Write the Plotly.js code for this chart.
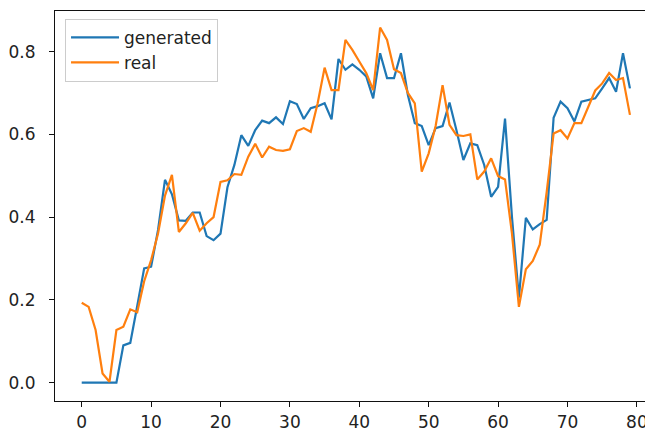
<!DOCTYPE html>
<html>
<head>
<meta charset="utf-8">
<script src="https://cdn.plot.ly/plotly-3.0.1.min.js"></script>
<style>
  html, body { margin: 0; padding: 0; background: #fff; }
  #chart { width: 645px; height: 431px; }
</style>
</head>
<body>
<div id="chart"></div>
<script>
// Step index 0..79
const steps = Array.from({length: 80}, (_, i) => i);

// Generated series
const generated = [
  0.0, 0.0, 0.0, 0.0, 0.0, 0.0, 0.09, 0.096, 0.185, 0.276,
  0.28, 0.369, 0.49, 0.455, 0.392, 0.391, 0.411, 0.411, 0.354, 0.344,
  0.36, 0.472, 0.526, 0.598, 0.572, 0.61, 0.633, 0.627, 0.641, 0.625,
  0.68, 0.673, 0.637, 0.663, 0.668, 0.675, 0.636, 0.782, 0.756, 0.769,
  0.756, 0.74, 0.687, 0.796, 0.736, 0.736, 0.796, 0.695, 0.627, 0.62,
  0.574, 0.615, 0.62, 0.677, 0.61, 0.538, 0.578, 0.574, 0.526, 0.449,
  0.473, 0.638, 0.40, 0.205, 0.398, 0.37, 0.383, 0.393, 0.64, 0.679,
  0.663, 0.631, 0.679, 0.683, 0.687, 0.711, 0.736, 0.703, 0.796, 0.711
];

// Real series
const real = [
  0.193, 0.183, 0.127, 0.022, 0.002, 0.127, 0.135, 0.177, 0.17, 0.245,
  0.296, 0.36, 0.452, 0.502, 0.364, 0.385, 0.41, 0.367, 0.385, 0.40,
  0.485, 0.489, 0.504, 0.502, 0.546, 0.577, 0.544, 0.57, 0.562, 0.56,
  0.564, 0.608, 0.615, 0.606, 0.675, 0.761, 0.707, 0.707, 0.828, 0.804,
  0.776, 0.748, 0.707, 0.858, 0.828, 0.757, 0.748, 0.70, 0.675, 0.51,
  0.554, 0.62, 0.719, 0.623, 0.598, 0.596, 0.60, 0.491, 0.51, 0.542,
  0.499, 0.491, 0.36, 0.183, 0.274, 0.294, 0.333, 0.46, 0.602, 0.61,
  0.59, 0.627, 0.627, 0.665, 0.706, 0.723, 0.748, 0.731, 0.736, 0.647
];

const seriesNames = ['generated', 'real'];
const seriesColors = ['#1f77b4', '#ff7f0e'];
const xTicks = [0, 10, 20, 30, 40, 50, 60, 70, 80];
const yTicks = [0.0, 0.2, 0.4, 0.6, 0.8];

const traces = [generated, real].map((ys, k) => ({
  x: steps,
  y: ys,
  type: 'scatter',
  mode: 'lines',
  name: seriesNames[k],
  legendgroup: seriesNames[k],
  line: {color: seriesColors[k], width: 2.2},
  hoverinfo: 'skip'
}));

const axisFont = {family: 'DejaVu Sans, sans-serif', size: 17, color: '#222'};

const layout = {
  width: 645,
  height: 431,
  margin: {l: 55, r: 0, t: 11, b: 30, pad: 0},
  paper_bgcolor: '#fff',
  plot_bgcolor: '#fff',
  showlegend: true,
  legend: {
    x: 0.017, y: 0.98, xanchor: 'left', yanchor: 'top',
    bgcolor: 'rgba(255,255,255,0.8)',
    bordercolor: '#cccccc', borderwidth: 1,
    font: {family: 'DejaVu Sans, sans-serif', size: 17, color: '#222'},
    traceorder: 'grouped', tracegroupgap: 0,
    itemwidth: 48
  },
  xaxis: {
    range: [-3.85, 81.17],
    tickvals: xTicks,
    ticktext: xTicks.map(String),
    showgrid: false, zeroline: false,
    showline: true, linecolor: '#111', linewidth: 1.1, mirror: true,
    ticks: 'outside', ticklen: 5, tickwidth: 1.1, tickcolor: '#111',
    ticklabelstandoff: 0,
    ticklabeloverflow: 'allow',
    tickfont: axisFont
  },
  yaxis: {
    range: [-0.0445, 0.898],
    tickvals: yTicks,
    ticktext: yTicks.map(v => v.toFixed(1)),
    showgrid: false, zeroline: false,
    showline: true, linecolor: '#111', linewidth: 1.1, mirror: false,
    ticks: 'outside', ticklen: 5, tickwidth: 1.1, tickcolor: '#111',
    ticklabelstandoff: 10,
    tickfont: axisFont
  }
};

Plotly.newPlot('chart', traces, layout, {staticPlot: true, displayModeBar: false});
</script>
</body>
</html>
